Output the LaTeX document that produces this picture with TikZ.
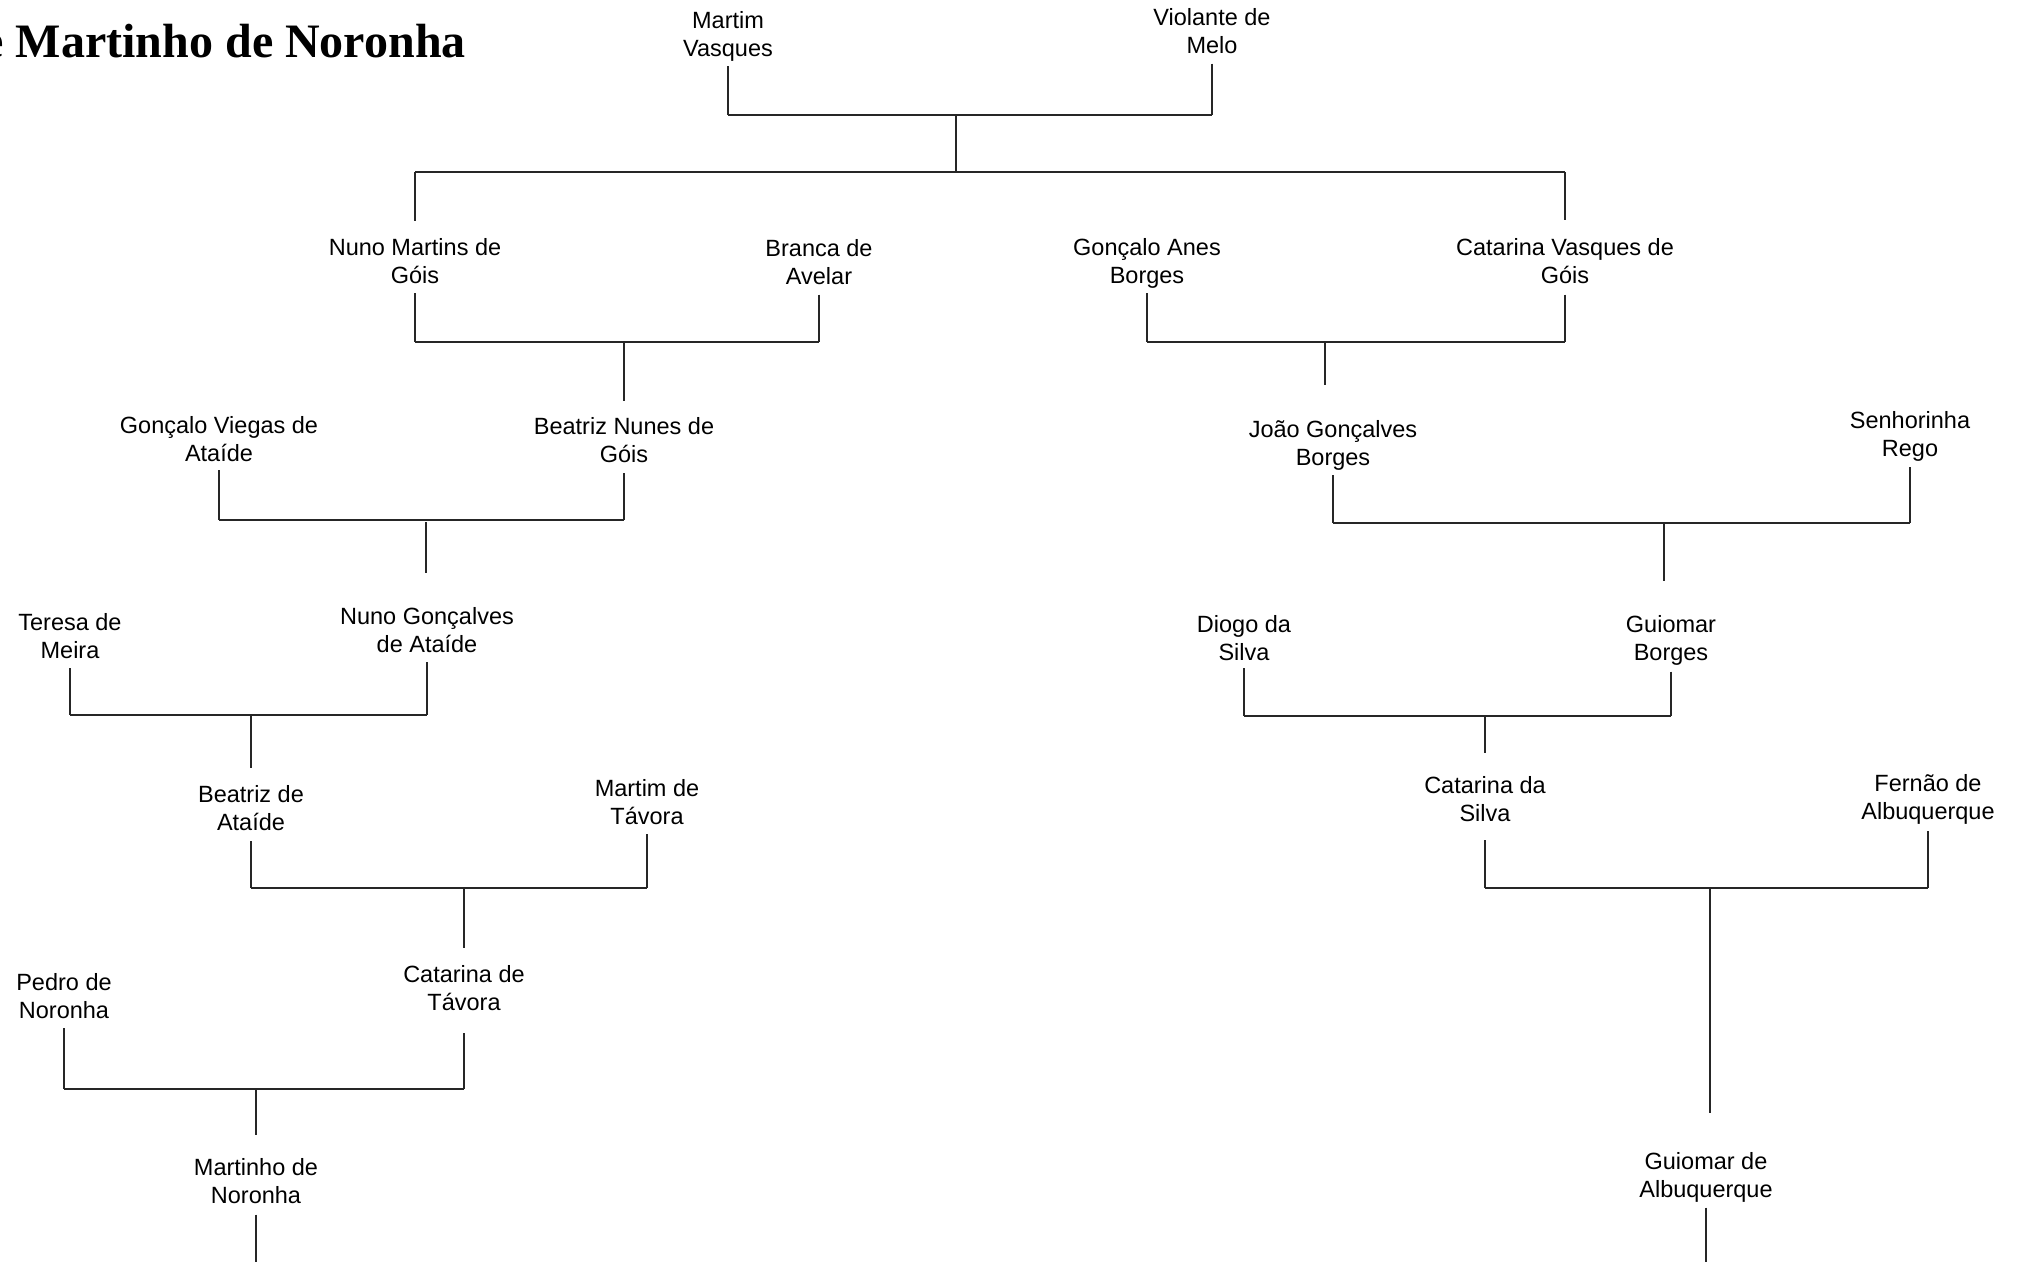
\documentclass[tikz,border=0pt]{standalone}
\usepackage{fontspec}
\setmainfont{Liberation Sans}
\newfontfamily\titlefont{Liberation Serif}
\newcommand{\famcouple}[5]{%
  \draw[vline] (#1.south |- 0,#2) -- (#1.south |- 0,#5);
  \draw[vline] (#3.south |- 0,#4) -- (#3.south |- 0,#5);
  \draw[hbar] (#1.south |- 0,#5) -- (#3.south |- 0,#5);}
\begin{document}
\begin{tikzpicture}[x=1pt,y=-1pt,
  person/.style={font=\fontsize{23.5}{28}\selectfont, align=center, inner sep=0pt, outer sep=0pt, anchor=south},
  vline/.style={line width=1.2pt, black!85},
  hbar/.style={line width=1.7pt, black!85}]
\useasboundingbox[fill=white] (0,0) rectangle (2021,1261);

% title
\node[font=\titlefont\bfseries\fontsize{48}{56}\selectfont, anchor=base east, inner sep=0pt] (title) at (466,57) {e Martinho de Noronha};

% people
\node[person] (MV)  at (728,64.4)    {Martim\\Vasques\strut};
\node[person] (VM)  at (1212,61.8)   {Violante de\\Melo\strut};
\node[person] (NMG) at (415,291.4)   {Nuno Martins de\\Góis\strut};
\node[person] (BA)  at (819,292.4)   {Branca de\\Avelar\strut};
\node[person] (GAB) at (1147,291.4)  {Gonçalo Anes\\Borges\strut};
\node[person] (CVG) at (1565,291.4)  {Catarina Vasques de\\Góis\strut};
\node[person] (GVA) at (219,469.4)   {Gonçalo Viegas de\\Ataíde\strut};
\node[person] (BNG) at (624,470.4)   {Beatriz Nunes de\\Góis\strut};
\node[person] (JGB) at (1333,473.4)  {João Gonçalves\\Borges\strut};
\node[person] (SR)  at (1910,464.4)  {Senhorinha\\Rego\strut};
\node[person] (TM)  at (70,666.4)    {Teresa de\\Meira\strut};
\node[person] (NGA) at (427,660.4)   {Nuno Gonçalves\\de Ataíde\strut};
\node[person] (DS)  at (1244,668.4)  {Diogo da\\Silva\strut};
\node[person] (GB)  at (1671,668.4)  {Guiomar\\Borges\strut};
\node[person] (BAt) at (251,838.4)   {Beatriz de\\Ataíde\strut};
\node[person] (MT)  at (647,832.4)   {Martim de\\Távora\strut};
\node[person] (CS)  at (1485,829.4)  {Catarina da\\Silva\strut};
\node[person] (FA)  at (1928,827.4)  {Fernão de\\Albuquerque\strut};
\node[person] (PN)  at (64,1026.4)   {Pedro de\\Noronha\strut};
\node[person] (CT)  at (464,1018.4)  {Catarina de\\Távora\strut};
\node[person] (MN)  at (256,1211.9)  {Martinho de\\Noronha\strut};
\node[person] (GA)  at (1706,1205.8) {Guiomar de\\Albuquerque\strut};

% couples
\famcouple{MV}{66}{VM}{63.5}{115}
\famcouple{NMG}{293}{BA}{294.5}{342}
\famcouple{GAB}{293}{CVG}{294.5}{342}
\famcouple{GVA}{470}{BNG}{473}{520}
\famcouple{JGB}{475}{SR}{467}{523}
\famcouple{TM}{668}{NGA}{662}{715}
\famcouple{DS}{668}{GB}{671.5}{716}
\famcouple{BAt}{841}{MT}{834.4}{888}
\famcouple{CS}{840}{FA}{831}{888}
\famcouple{PN}{1028.4}{CT}{1033}{1089}

% descent of first couple to two children
\coordinate (m1) at (956,115);
\coordinate (k1) at (956,172);
\draw[vline] (m1) -- (k1);
\draw[hbar] (NMG.north |- k1) -- (CVG.north |- k1);
\draw[vline] (NMG.north |- k1) -- (NMG.north |- 0,221);
\draw[vline] (CVG.north |- k1) -- (CVG.north |- 0,220);

% drops to children
\coordinate (m2) at (624,343);    \draw[vline] (m2) -- (m2 |- 0,400.5);
\coordinate (m3) at (1325,343);   \draw[vline] (m3) -- (m3 |- 0,384.5);
\coordinate (m4) at (426,522);    \draw[vline] (m4) -- (m4 |- 0,572.5);
\coordinate (m5) at (1664,524);   \draw[vline] (m5) -- (m5 |- 0,580.5);
\coordinate (m6) at (251,716);    \draw[vline] (m6) -- (m6 |- 0,768);
\coordinate (m7) at (1485,717);   \draw[vline] (m7) -- (m7 |- 0,752.7);
\coordinate (m8) at (464,889);    \draw[vline] (m8) -- (m8 |- 0,948);
\coordinate (m9) at (1710,889);   \draw[vline] (m9) -- (m9 |- 0,1113);
\coordinate (m10) at (256,1089);  \draw[vline] (m10) -- (m10 |- 0,1135);

% lines leaving the bottom
\coordinate (endMN) at (256,1262);
\coordinate (endGA) at (1706,1262);
\draw[vline] (MN.south |- 0,1214.7) -- (endMN);
\draw[vline] (GA.south |- 0,1207.5) -- (endGA);
\end{tikzpicture}
\end{document}
